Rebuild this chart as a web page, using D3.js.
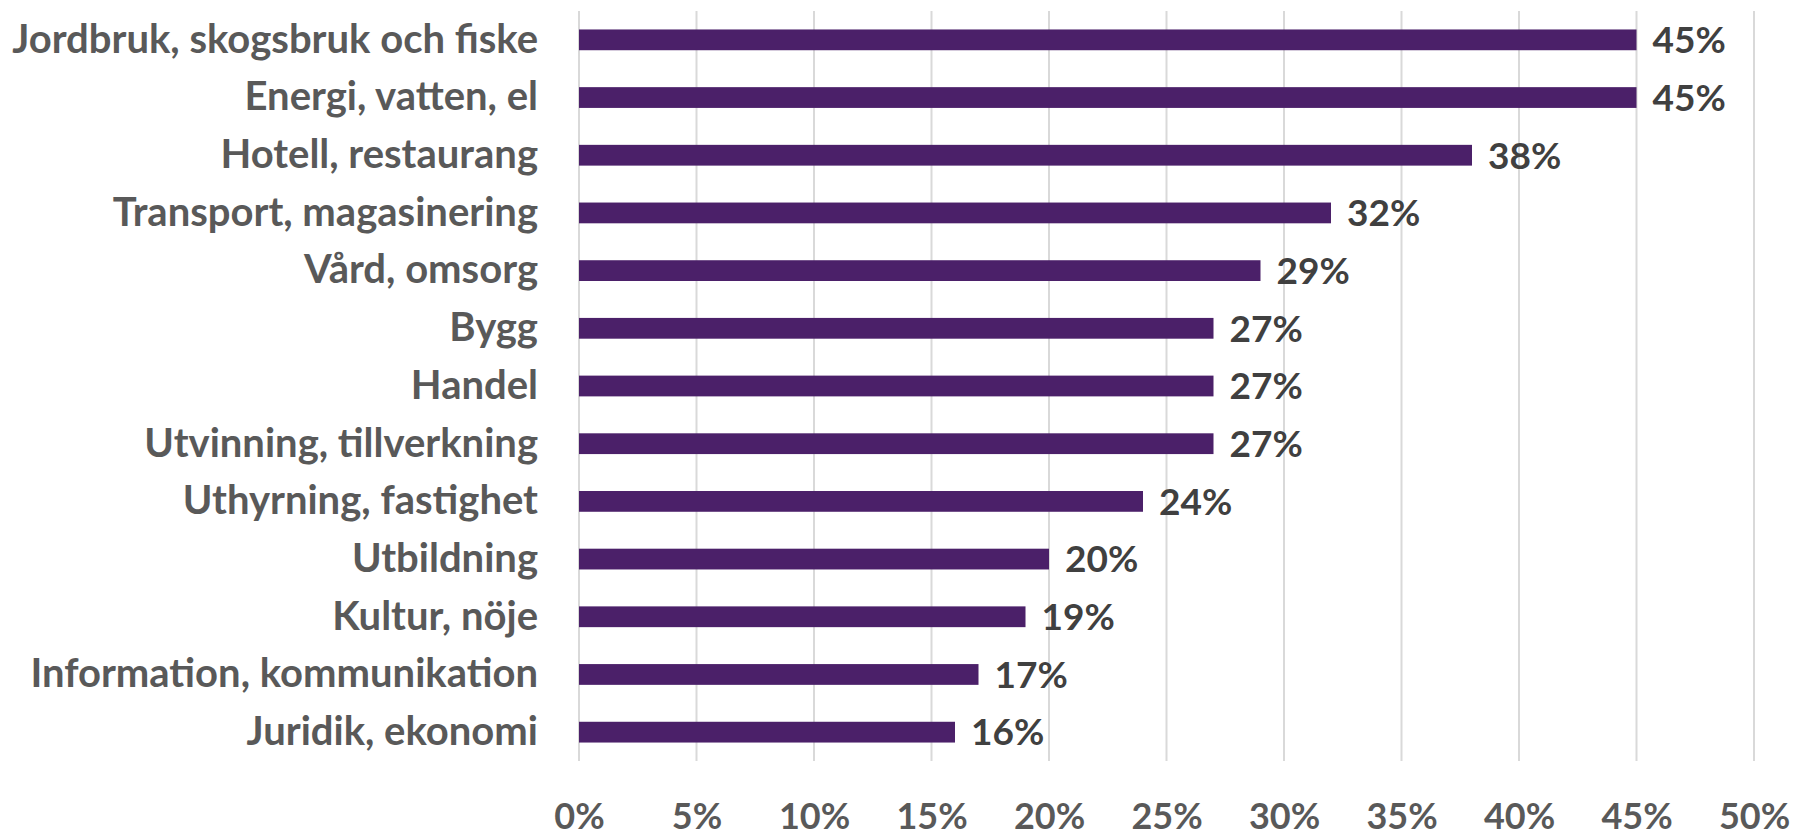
<!DOCTYPE html>
<html>
<head>
<meta charset="utf-8">
<script src="https://cdn.jsdelivr.net/npm/d3@7"></script>
<style>
  body { margin: 0; background: #fff; }
  svg { display: block; }
  text { font-family: Lato, "Open Sans", sans-serif; font-weight: bold; }
</style>
</head>
<body>
<div id="chart"></div>
<script>
// categories and values (percent), top to bottom
const categories = [
    "Jordbruk, skogsbruk och fiske",
    "Energi, vatten, el",
    "Hotell, restaurang",
    "Transport, magasinering",
    "Vård, omsorg",
    "Bygg",
    "Handel",
    "Utvinning, tillverkning",
    "Uthyrning, fastighet",
    "Utbildning",
    "Kultur, nöje",
    "Information, kommunikation",
    "Juridik, ekonomi"
];
const values = [45, 45, 38, 32, 29, 27, 27, 27, 24, 20, 19, 17, 16];
const xTicks = [0, 5, 10, 15, 20, 25, 30, 35, 40, 45, 50];

// set the dimensions and margins of the graph
const margin = {top: 11, right: 41, bottom: 75, left: 579},
    width = 1795 - margin.left - margin.right,
    height = 836 - margin.top - margin.bottom;

const svg = d3.select("#chart")
    .append("svg")
    .attr("width", width + margin.left + margin.right)
    .attr("height", height + margin.top + margin.bottom)
    .append("g")
    .attr("transform", `translate(${margin.left},${margin.top})`);

const x = d3.scaleLinear()
    .domain([0, 50])
    .range([0, width]);

const y = d3.scaleBand()
    .domain(categories)
    .range([0, height])
    .paddingInner(0.64)
    .paddingOuter(0.32);

// vertical gridlines
svg.append("g")
    .selectAll("line")
    .data(xTicks)
    .join("line")
    .attr("x1", d => x(d))
    .attr("x2", d => x(d))
    .attr("y1", 0)
    .attr("y2", height)
    .attr("stroke", "#d9d9d9")
    .attr("stroke-width", 2);

// x axis labels
const xAxis = svg.append("g")
    .attr("transform", `translate(0, ${height})`)
    .call(d3.axisBottom(x).tickValues(xTicks).tickFormat(d => d + "%").tickSize(0).tickPadding(42));
xAxis.select(".domain").remove();
xAxis.selectAll("text")
    .attr("fill", "#595959")
    .style("font-size", "36px");

// y axis labels
const yAxis = svg.append("g")
    .call(d3.axisLeft(y).tickSize(0).tickPadding(41));
yAxis.select(".domain").remove();
yAxis.selectAll("text")
    .attr("fill", "#595959")
    .style("font-size", "40px");

// bars
svg.append("g")
    .selectAll("rect")
    .data(values)
    .join("rect")
    .attr("x", x(0))
    .attr("y", (d, i) => y(categories[i]))
    .attr("width", d => x(d) - x(0))
    .attr("height", y.bandwidth())
    .attr("fill", "#4b2069");

// value labels
svg.append("g")
    .selectAll("text")
    .data(values)
    .join("text")
    .attr("x", d => x(d) + 16)
    .attr("y", (d, i) => y(categories[i]) + y.bandwidth() / 2)
    .attr("dy", "0.36em")
    .attr("fill", "#404040")
    .style("font-size", "37px")
    .text(d => d + "%");
</script>
</body>
</html>
